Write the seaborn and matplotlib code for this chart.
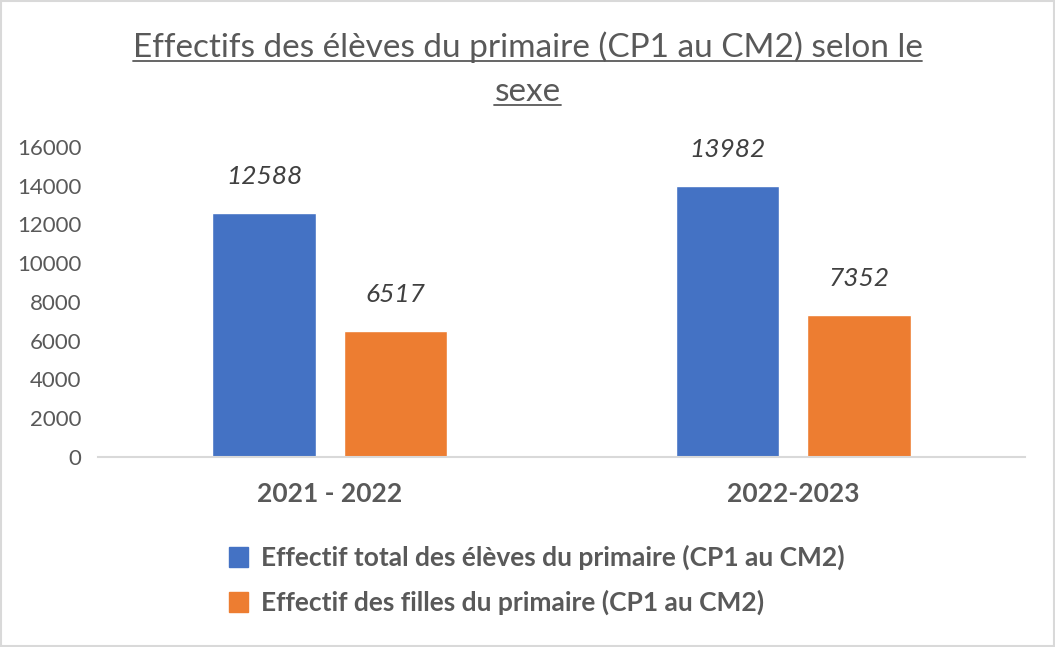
import pandas as pd
import matplotlib.pyplot as plt
import seaborn as sns
from matplotlib.patches import Rectangle
from matplotlib.lines import Line2D

# Données du graphique
annees = ["2021 - 2022", "2022-2023"]
series = ["Effectif total des élèves du primaire (CP1 au CM2)",
          "Effectif des filles du primaire (CP1 au CM2)"]
effectif_total = [12588, 13982]
effectif_filles = [6517, 7352]
graduations = [0, 2000, 4000, 6000, 8000, 10000, 12000, 14000, 16000]
titre = ["Effectifs des élèves du primaire (CP1 au CM2) selon le", "sexe"]

couleurs = ["#4472C4", "#ED7D31"]
gris = "#595959"

df = pd.DataFrame({
    "annee": annees * 2,
    "serie": [series[0]] * 2 + [series[1]] * 2,
    "valeur": effectif_total + effectif_filles,
})

sns.set_theme(style="white")
plt.rcParams["font.family"] = ["Lato", "DejaVu Sans"]

fig = plt.figure(figsize=(10.55, 6.47), dpi=100)
ax = fig.add_axes([0.0929, 0.2937, 0.8787, 0.4791])

sns.barplot(data=df, x="annee", y="valeur", hue="serie", hue_order=series,
            palette=couleurs, width=0.567, gap=0.213, saturation=1,
            legend=False, ax=ax)

ax.set_ylim(0, 16000)
ax.set_xlim(-0.5, 1.5)
ax.set_yticks(graduations)
ax.set_yticklabels([str(g) for g in graduations], fontsize=16, color=gris)
ax.set_xticks(range(len(annees)))
ax.set_xticklabels(annees, fontsize=19, fontweight="bold", color=gris)
ax.tick_params(axis="y", length=0, pad=12)
ax.tick_params(axis="x", length=0, pad=18)
ax.set_xlabel("")
ax.set_ylabel("")
for cote in ["top", "right", "left"]:
    ax.spines[cote].set_visible(False)
ax.spines["bottom"].set_color("#D9D9D9")
ax.spines["bottom"].set_linewidth(1.5)

# Étiquettes de données
for conteneur in ax.containers:
    for barre in conteneur:
        h = barre.get_height()
        ax.annotate(f"{int(h)}", (barre.get_x() + barre.get_width() / 2, h),
                    xytext=(0, 26), textcoords="offset points",
                    ha="center", va="center", fontsize=19, fontstyle="italic",
                    color="#404040")

# Titre souligné
fig.canvas.draw()
rendu = fig.canvas.get_renderer()
for i, ligne in enumerate(titre):
    t = fig.text(0.5, 1 - (57 + i * 44) / 647, ligne, ha="center", va="baseline",
                 fontsize=24, fontweight="normal", color=gris)
    bb = t.get_window_extent(renderer=rendu).transformed(fig.transFigure.inverted())
    y_sous = 1 - (61 + i * 44) / 647
    fig.add_artist(Line2D([bb.x0, bb.x1], [y_sous, y_sous], color=gris, lw=1.3,
                          transform=fig.transFigure))

# Légende
poignees = [Rectangle((0, 0), 1, 1, color=c) for c in couleurs]
fig.legend(poignees, series, loc="center", bbox_to_anchor=(537 / 1055, 1 - 580 / 647),
           frameon=False, ncol=1, handlelength=0.7, handleheight=0.8,
           handletextpad=0.5, labelspacing=0.75,
           prop={"size": 19, "weight": "bold"}, labelcolor=gris)

# Cadre de la figure
fig.add_artist(Rectangle((0.001, 0.001), 0.998, 0.998, transform=fig.transFigure,
                         fill=False, edgecolor="#D9D9D9", lw=1.5))

fig.savefig("out.png", dpi=100)
